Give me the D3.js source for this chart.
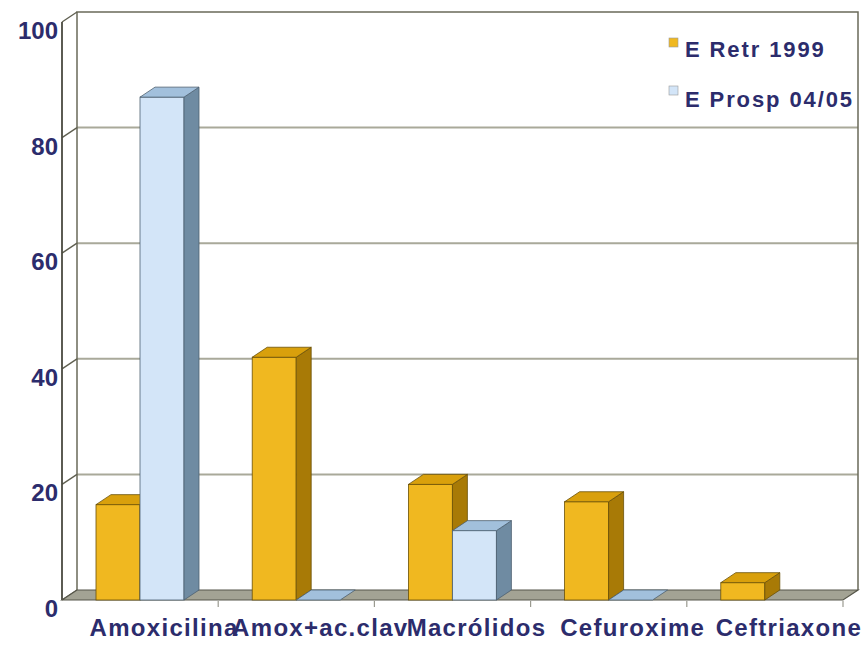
<!DOCTYPE html>
<html>
<head>
<meta charset="utf-8">
<script src="https://cdn.jsdelivr.net/npm/d3@7/dist/d3.min.js"></script>
<style>
  html, body { margin: 0; padding: 0; background: #ffffff; }
  svg { display: block; }
  text { font-family: "Liberation Sans", Arial, Helvetica, sans-serif; font-weight: bold; fill: #2c2c6c; }
</style>
</head>
<body>
<svg id="chart" width="865" height="645"></svg>
<script>
// Antibiotic prescriptions (%) — two study periods
const categories = ["Amoxicilina", "Amox+ac.clav", "Macrólidos", "Cefuroxime", "Ceftriaxone"];
const seriesNames = ["E Retr 1999", "E Prosp 04/05"];
const retr1999 = [16.5, 42, 20, 17, 3];
const prosp0405 = [87, 0, 12, 0, null];
const yTicks = [0, 20, 40, 60, 80, 100];

const svg = d3.select("#chart");

// Plot geometry: front plane and the depth offset to the back wall
const plotLeft = 62, plotRight = 843, plotTop = 22, plotBottom = 600;
const dx = 15, dy = -10;

const x = d3.scaleBand().domain(categories).range([plotLeft, plotRight]).paddingInner(0).paddingOuter(0);
const sub = d3.scaleBand().domain(seriesNames).range([34, 122]).padding(0);
const y = d3.scaleLinear().domain([0, 100]).range([plotBottom, plotTop]);

const colors = {
  "E Retr 1999":   { front: "#f0b820", top: "#d9a00c", side: "#a87a06", stroke: "#6a5008" },
  "E Prosp 04/05": { front: "#d3e5f8", top: "#a2c0dc", side: "#6f8ba2", stroke: "#4d6070" }
};

// Back wall
const wall = svg.append("g");
wall.append("rect")
  .attr("x", plotLeft + dx).attr("y", y(100) + dy)
  .attr("width", plotRight - plotLeft).attr("height", y(0) - y(100))
  .attr("fill", "#ffffff");

// Gridlines on the back wall
wall.selectAll("line.grid")
  .data(yTicks.filter(t => t > 0 && t < 100))
  .join("line")
  .attr("x1", plotLeft + dx).attr("x2", plotRight + dx)
  .attr("y1", d => y(d) + dy).attr("y2", d => y(d) + dy)
  .attr("stroke", "#a9a99a").attr("stroke-width", 2);

// Wall border: left, top and right edges
wall.append("path")
  .attr("d", `M${plotLeft + dx},${y(0) + dy} V${y(100) + dy} H${plotRight + dx} V${y(0) + dy}`)
  .attr("fill", "none").attr("stroke", "#6a6a5a").attr("stroke-width", 1.5);

// Diagonal tick connectors from the front axis to the wall
wall.selectAll("line.diag")
  .data(yTicks)
  .join("line")
  .attr("x1", plotLeft).attr("y1", d => y(d))
  .attr("x2", plotLeft + dx).attr("y2", d => y(d) + dy)
  .attr("stroke", "#5f5f50").attr("stroke-width", 1.4);

// Front value axis
svg.append("line")
  .attr("x1", plotLeft).attr("x2", plotLeft)
  .attr("y1", y(100)).attr("y2", y(0))
  .attr("stroke", "#4a4a40").attr("stroke-width", 1.8);

// Floor
svg.append("path")
  .attr("d", `M${plotLeft},${y(0)} L${plotLeft + dx},${y(0) + dy} H${plotRight + dx} L${plotRight},${y(0)} Z`)
  .attr("fill", "#a3a394").attr("stroke", "#56564a").attr("stroke-width", 1.2);

// Category boundary ticks under the floor
svg.selectAll("line.cat")
  .data(categories.slice(1).map(c => x(c)).concat([plotRight]))
  .join("line")
  .attr("x1", d => d).attr("x2", d => d)
  .attr("y1", y(0) + 1).attr("y2", y(0) + 7)
  .attr("stroke", "#9a9a90").attr("stroke-width", 1.2);

// Bars as 3D boxes
const bars = [];
categories.forEach((c, i) => {
  [retr1999[i], prosp0405[i]].forEach((v, j) => {
    if (v === null) return;
    bars.push({ cat: c, series: seriesNames[j], value: v });
  });
});

const barG = svg.append("g");
bars.forEach(b => {
  const x0 = x(b.cat) + sub(b.series);
  const w = sub.bandwidth();
  const yt = y(b.value), yb = y(0);
  const col = colors[b.series];
  const g = barG.append("g");
  if (yb - yt > 0.5) {
    g.append("rect")
      .attr("x", x0).attr("y", yt).attr("width", w).attr("height", yb - yt)
      .attr("fill", col.front).attr("stroke", col.stroke).attr("stroke-width", 0.8);
    g.append("path")
      .attr("d", `M${x0 + w},${yt} L${x0 + w + dx},${yt + dy} V${yb + dy} L${x0 + w},${yb} Z`)
      .attr("fill", col.side).attr("stroke", col.stroke).attr("stroke-width", 0.8);
  }
  g.append("path")
    .attr("d", `M${x0},${yt} L${x0 + dx},${yt + dy} H${x0 + w + dx} L${x0 + w},${yt} Z`)
    .attr("fill", col.top).attr("stroke", col.stroke).attr("stroke-width", 0.8);
});

// Value axis labels
svg.selectAll("text.ytick")
  .data(yTicks)
  .join("text")
  .attr("x", plotLeft - 4).attr("y", d => y(d) + 17)
  .attr("text-anchor", "end")
  .attr("font-size", 24)
  .text(d => d);

// Category labels
svg.selectAll("text.xlabel")
  .data(categories)
  .join("text")
  .attr("x", d => x(d) + x.bandwidth() / 2 + 24)
  .attr("y", 636)
  .attr("text-anchor", "middle")
  .attr("font-size", 24).attr("letter-spacing", 1.3)
  .text(d => d);

// Legend
const legend = svg.append("g").attr("transform", "translate(669,38)");
seriesNames.forEach((s, i) => {
  const row = legend.append("g").attr("transform", `translate(0,${i * 48})`);
  row.append("rect").attr("width", 9).attr("height", 9)
    .attr("fill", colors[s].front).attr("stroke", "#9a9a9a").attr("stroke-width", 0.6);
  row.append("text")
    .attr("x", 16).attr("y", 19 + i * 2)
    .attr("font-size", 22).attr("letter-spacing", 1.9)
    .text(s);
});
</script>
</body>
</html>
